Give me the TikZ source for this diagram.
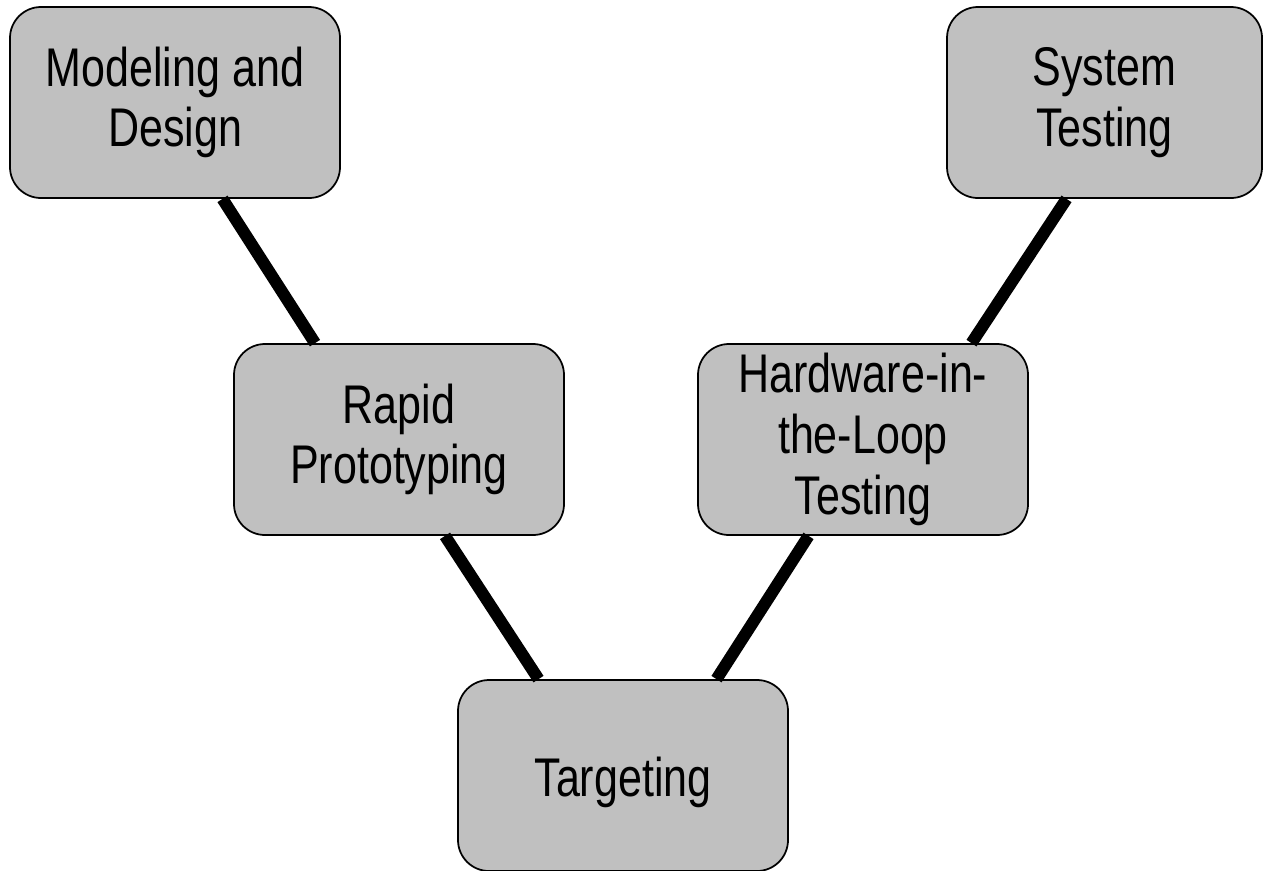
\documentclass[tikz,border=0pt]{standalone}
\usepackage{fontspec}
\setmainfont{Liberation Sans}[FakeStretch=0.79]
\usepackage{tikz}
\usetikzlibrary{calc}
\definecolor{boxgray}{HTML}{C0C0C0}
\tikzset{
	stage/.style={draw=black, line width=0.035cm, fill=boxgray, rounded corners=0.62cm,
		minimum width=6.6cm, minimum height=3.82cm, inner sep=0pt, align=center,
		font=\fontsize{31}{34.5}\selectfont,
		execute at begin node={\rule{0pt}{1.07cm}}},
	link/.style={line width=0.24cm, black}
}
\begin{document}
\begin{tikzpicture}
			%%%%% START %%%%%
			
			\useasboundingbox (0, 0) rectangle (25.26, -17.4);
			
			\node[stage] (model) at (3.5, -2.05) {Modeling and\\Design};
			\node[stage] (rapid) at (7.98, -8.79) {Rapid\\Prototyping};
			\node[stage] (target) at (12.46, -15.51) {Targeting};
			\node[stage] (hil) at (17.26, -8.79) {Hardware-in-\\the-Loop\\Testing};
			\node[stage, minimum width=6.3cm] (system) at (22.09, -2.05) {System\\Testing};
			
			\draw[link] ([xshift=0.95cm]model.south) -- ([xshift=-1.68cm]rapid.north);
			\draw[link] ([xshift=0.92cm]rapid.south) -- ([xshift=-1.69cm]target.north);
			\draw[link] ([xshift=1.87cm]target.north) -- ([xshift=-1.09cm]hil.south);
			\draw[link] ([xshift=2.17cm]hil.north) -- ([xshift=-0.76cm]system.south);
			
			%%%%% END %%%%%
		\end{tikzpicture}
\end{document}
